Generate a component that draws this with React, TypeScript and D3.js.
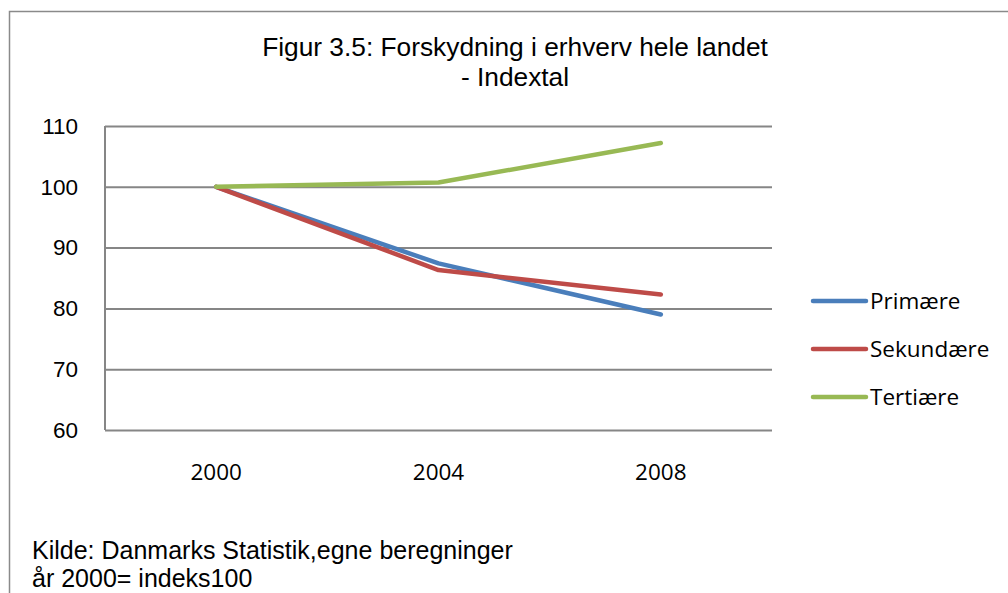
import React, { useEffect, useRef } from 'react';
import * as d3 from 'd3';

const years = ['2000', '2004', '2008'];
const primaere = [100, 87.4, 79.0];
const sekundaere = [100, 86.3, 82.3];
const tertiaere = [100, 100.7, 107.2];
const seriesNames = ['Primære', 'Sekundære', 'Tertiære'];
const seriesColors = ['#4a7ebb', '#be4b48', '#98b954'];
const yTicks = [60, 70, 80, 90, 100, 110];

const App = () => {
  const svgRef = useRef<SVGSVGElement>(null);

  useEffect(() => {
    const W = 1008;
    const H = 593;
    const margin = { top: 126, left: 105, right: 236, bottom: 163 };
    const width = W - margin.left - margin.right;
    const height = H - margin.top - margin.bottom;

    const svg = d3.select(svgRef.current)
      .attr('width', W)
      .attr('height', H);
    svg.selectAll('*').remove();

    // outer frame (left + top only visible)
    svg.append('path')
      .attr('d', `M9.5,${H} V11.5 H${W}`)
      .attr('fill', 'none')
      .attr('stroke', '#8a8a8a')
      .attr('stroke-width', 1.5);

    // title
    const title = svg.append('text')
      .attr('text-anchor', 'middle')
      .attr('font-family', 'Liberation Sans, Arial, sans-serif')
      .attr('font-size', 26.3)
      .attr('fill', '#000');
    title.append('tspan').attr('x', 515).attr('y', 56).text('Figur 3.5: Forskydning i erhverv hele landet');
    title.append('tspan').attr('x', 515).attr('y', 86).text('- Indextal');

    const g = svg.append('g').attr('transform', `translate(${margin.left},${margin.top})`);

    const x = d3.scalePoint<string>()
      .domain(years)
      .range([0, width])
      .padding(0.5);

    const y = d3.scaleLinear()
      .domain([60, 110])
      .range([height, 0]);

    // gridlines
    g.append('g')
      .call(d3.axisLeft(y).tickValues(yTicks).tickSize(-width).tickFormat(() => ''))
      .call(s => s.select('.domain').remove())
      .selectAll('line')
      .attr('stroke', '#868686')
      .attr('stroke-width', 2);

    // y axis line
    g.append('line')
      .attr('x1', 0).attr('x2', 0)
      .attr('y1', 0).attr('y2', height)
      .attr('stroke', '#868686')
      .attr('stroke-width', 2);

    // y labels
    g.selectAll('.ylab')
      .data(yTicks)
      .enter().append('text')
      .attr('class', 'ylab')
      .attr('x', -27)
      .attr('y', d => y(d))
      .attr('dy', '0.35em')
      .attr('text-anchor', 'end')
      .attr('font-family', 'Liberation Sans, Arial, sans-serif')
      .attr('font-size', 22.5)
      .text(d => d);

    // x labels
    g.selectAll('.xlab')
      .data(years)
      .enter().append('text')
      .attr('class', 'xlab')
      .attr('x', d => x(d)!)
      .attr('y', height + 50)
      .attr('text-anchor', 'middle')
      .attr('font-family', 'Open Sans, Noto Sans, sans-serif')
      .attr('font-size', 22.5)
      .text(d => d);

    const allSeries = [primaere, sekundaere, tertiaere];
    const line = d3.line<number>()
      .x((_, i) => x(years[i])!)
      .y(d => y(d));

    allSeries.forEach((vals, i) => {
      g.append('path')
        .datum(vals)
        .attr('d', line)
        .attr('fill', 'none')
        .attr('stroke', seriesColors[i])
        .attr('stroke-width', 4.5)
        .attr('stroke-linecap', 'round')
        .attr('stroke-linejoin', 'round');
    });

    // legend
    const legend = svg.append('g');
    seriesNames.forEach((name, i) => {
      const ly = 301 + i * 48;
      legend.append('line')
        .attr('x1', 813).attr('x2', 866)
        .attr('y1', ly).attr('y2', ly)
        .attr('stroke', seriesColors[i])
        .attr('stroke-width', 4.5)
        .attr('stroke-linecap', 'round');
      legend.append('text')
        .attr('x', 870)
        .attr('y', ly)
        .attr('dy', '0.35em')
        .attr('font-family', 'Open Sans, Noto Sans, sans-serif')
        .attr('font-size', 22.5)
        .text(name);
    });

    // source note
    const note = svg.append('text')
      .attr('font-family', 'Liberation Sans, Arial, sans-serif')
      .attr('font-size', 25)
      .attr('fill', '#000');
    note.append('tspan').attr('x', 32).attr('y', 559).text('Kilde: Danmarks Statistik,egne beregninger');
    note.append('tspan').attr('x', 32).attr('y', 587).text('år 2000= indeks100');

    return () => {
      d3.select(svgRef.current).selectAll('*').remove();
    };
  }, []);

  return (
    <svg ref={svgRef} style={{ position: 'absolute', left: 0, top: 0, background: '#fff' }}></svg>
  );
};

export default App;
